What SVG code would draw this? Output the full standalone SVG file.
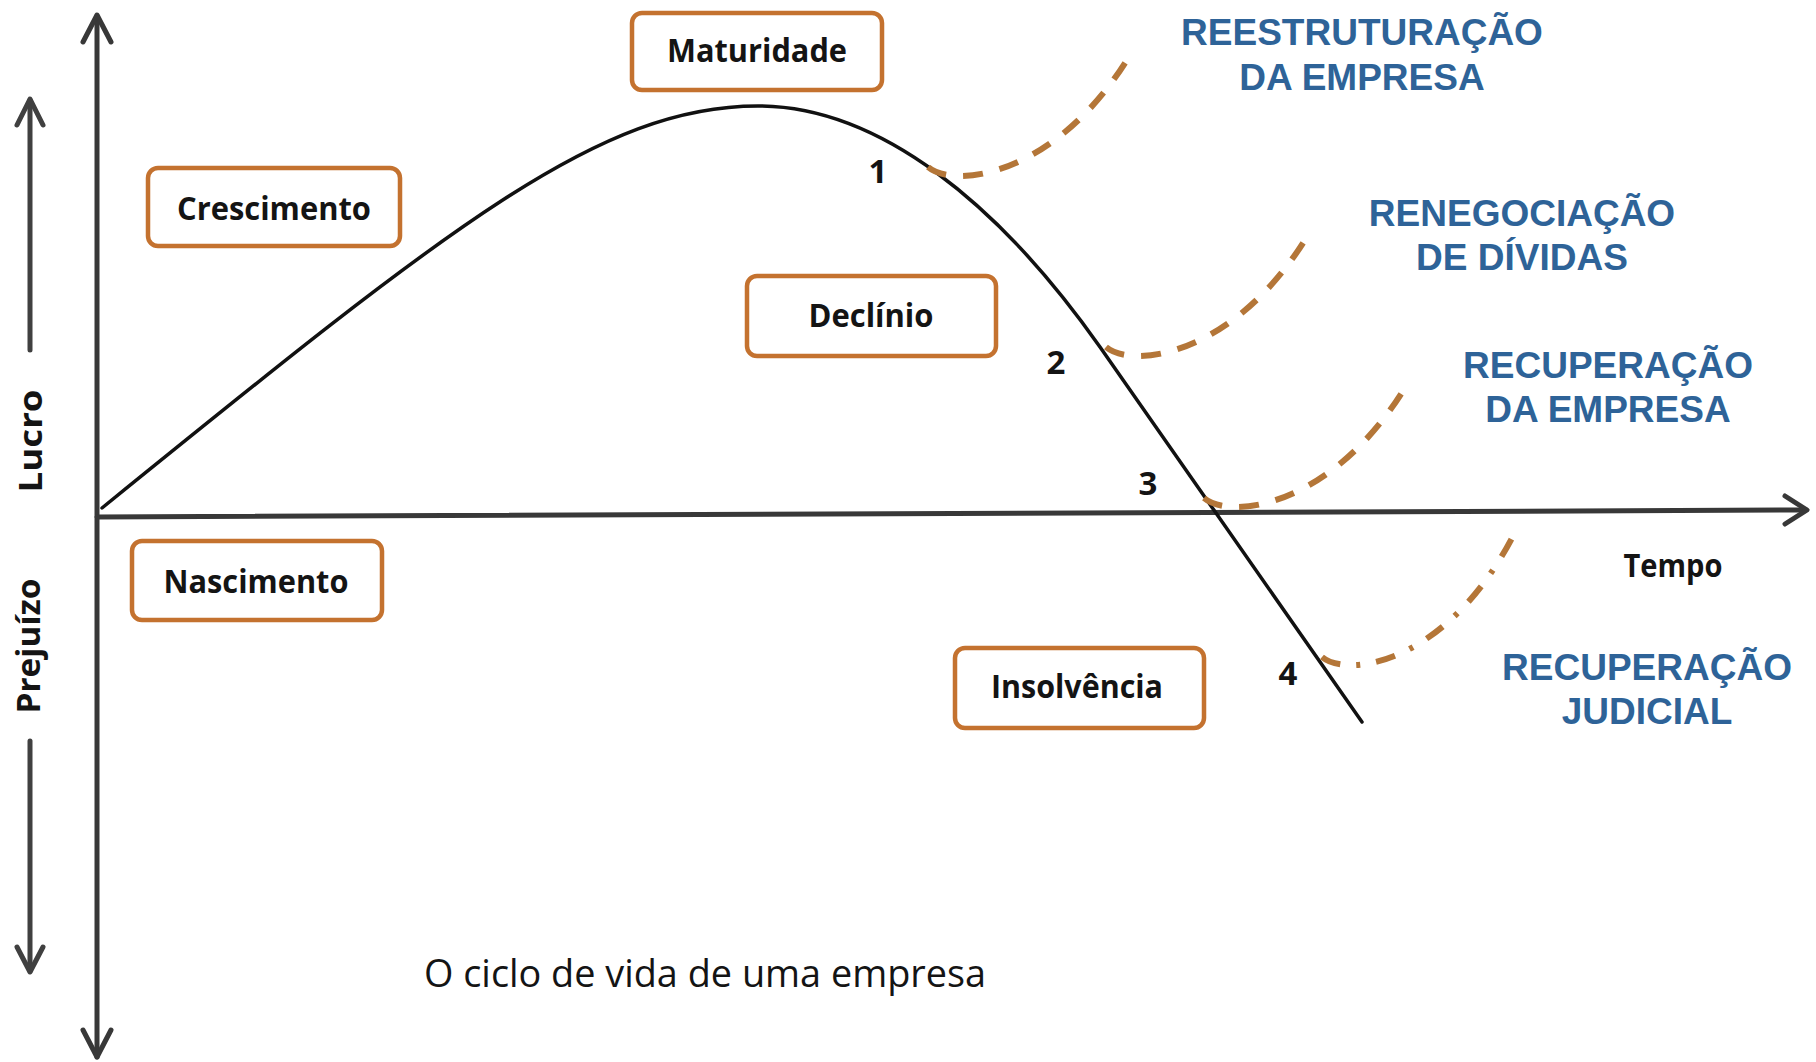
<svg xmlns="http://www.w3.org/2000/svg" width="1816" height="1062" viewBox="0 0 1816 1062">
<style>
.axis{fill:none;stroke:#383838;stroke-width:5;stroke-linecap:round;stroke-linejoin:round}
.small{fill:none;stroke:#404040;stroke-width:5;stroke-linecap:round;stroke-linejoin:round}
.curve{fill:none;stroke:#111;stroke-width:3.5;stroke-linecap:round}
.dash{fill:none;stroke:#b47638;stroke-width:6;stroke-dasharray:20 17}
.dashdot{fill:none;stroke:#b47638;stroke-width:6;stroke-dasharray:20 16 4 16}
.box{fill:#fff;stroke:#c4722f;stroke-width:4.5}
.bt{font-family:"Open Sans","DejaVu Sans",sans-serif;font-weight:700;font-size:33px;fill:#141414;text-anchor:middle}
.num{font-family:"Open Sans","DejaVu Sans",sans-serif;font-weight:700;font-size:33px;fill:#141414;text-anchor:middle}
.blue{font-family:"Liberation Sans",Arial,sans-serif;font-weight:700;font-size:37px;fill:#2e6398;text-anchor:middle}
.cap{font-family:"Open Sans","DejaVu Sans",sans-serif;font-weight:400;font-size:38px;fill:#141414;text-anchor:middle}
</style>
<rect width="1816" height="1062" fill="#fff"/>
<g id="axes">
  <path class="axis" d="M97,1057 V16"/>
  <path class="axis" d="M83,42 L97,15 L111,42"/>
  <path class="axis" d="M83,1030 L97,1057 L111,1030"/>
  <path class="axis" d="M97,517 L1806,510"/>
  <path class="axis" d="M1785,496 L1807,510 L1785,524"/>
  <path class="small" d="M30,350 V100"/>
  <path class="small" d="M17,125 L30,99 L43,125"/>
  <path class="small" d="M30,741 V971"/>
  <path class="small" d="M17,947 L30,972 L43,947"/>
  <text class="bt" transform="translate(42,441) rotate(-90)" textLength="103" lengthAdjust="spacingAndGlyphs" font-size="31">Lucro</text>
  <text class="bt" transform="translate(40,646) rotate(-90)" textLength="135" lengthAdjust="spacingAndGlyphs" font-size="31">Prejuízo</text>
  <text id="tempo" class="bt" x="1673" y="577" textLength="99" lengthAdjust="spacingAndGlyphs" font-size="31">Tempo</text>
</g>
<g id="connectors">
  <path class="curve" d="M102,508 C452,224 600,106 758,106 C880,106 1000,205 1100,347 L1362,722"/>
  <path class="dash" d="M928,167 C955,190 1060,175 1133,50"/>
  <path class="dash" d="M1106,347 C1133,370 1238,355 1311,230"/>
  <path class="dash" d="M1204,498 C1231,521 1336,506 1409,381"/>
  <path class="dashdot" d="M1322,657 C1347,678 1445,665 1512,538"/>
</g>
<g id="labels-num">
  <text class="num" x="878" y="183">1</text>
  <text class="num" x="1056" y="374">2</text>
  <text class="num" x="1148" y="495">3</text>
  <text class="num" x="1288" y="685">4</text>
</g>
<g id="maturidade"><rect class="box" x="632" y="13" width="250" height="77" rx="10"/><text class="bt" x="757" y="62" textLength="180" lengthAdjust="spacingAndGlyphs">Maturidade</text></g>
<g id="crescimento"><rect class="box" x="148" y="168" width="252" height="78" rx="10"/><text class="bt" x="274" y="220" textLength="194" lengthAdjust="spacingAndGlyphs">Crescimento</text></g>
<g id="declinio"><rect class="box" x="747" y="276" width="249" height="80" rx="10"/><text class="bt" x="871" y="327" textLength="125" lengthAdjust="spacingAndGlyphs">Declínio</text></g>
<g id="nascimento"><rect class="box" x="132" y="541" width="250" height="79" rx="10"/><text class="bt" x="256" y="593" textLength="185" lengthAdjust="spacingAndGlyphs">Nascimento</text></g>
<g id="insolvencia"><rect class="box" x="955" y="648" width="249" height="80" rx="10"/><text class="bt" x="1077" y="698" textLength="172" lengthAdjust="spacingAndGlyphs">Insolvência</text></g>
<g id="reestruturacao"><text class="blue" x="1362" y="45">REESTRUTURAÇÃO</text><text class="blue" x="1362" y="90">DA EMPRESA</text></g>
<g id="renegociacao"><text class="blue" x="1522" y="226">RENEGOCIAÇÃO</text><text class="blue" x="1522" y="270">DE DÍVIDAS</text></g>
<g id="recuperacao-empresa"><text class="blue" x="1608" y="378">RECUPERAÇÃO</text><text class="blue" x="1608" y="422">DA EMPRESA</text></g>
<g id="recuperacao-judicial"><text class="blue" x="1647" y="680">RECUPERAÇÃO</text><text class="blue" x="1647" y="724">JUDICIAL</text></g>
<g id="caption"><text class="cap" x="705" y="987" textLength="562" lengthAdjust="spacingAndGlyphs">O ciclo de vida de uma empresa</text></g>
</svg>
